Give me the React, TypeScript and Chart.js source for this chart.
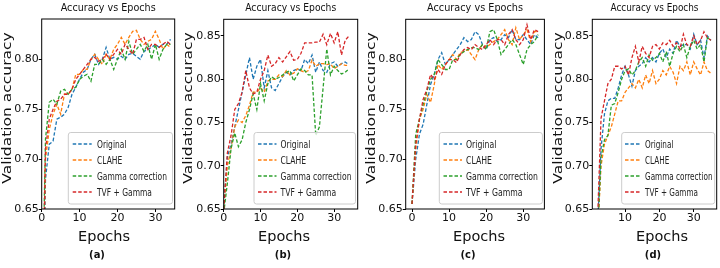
import React, { useEffect, useRef } from "react";
import { Chart, registerables } from "chart.js";

Chart.register(...registerables);

// ---------------- data ----------------
const SERIES_NAMES = ["Original", "CLAHE", "Gamma correction", "TVF + Gamma"];
const SERIES_COLORS = ["#1f77b4", "#ff7f0e", "#2ca02c", "#d62728"];
const PANEL_TAGS = ["(a)", "(b)", "(c)", "(d)"];
const TITLE_TEXT = "Accuracy vs Epochs";
const X_LABEL = "Epochs";
const Y_LABEL = "Validation accuracy";

const EPOCHS_ABC = [0, 1, 2, 3, 4, 5, 6, 7, 8, 9, 10, 11, 12, 13, 14, 15, 16, 17, 18, 19, 20, 21, 22, 23, 24, 25, 26, 27, 28, 29, 30, 31, 32, 33, 34];
const EPOCHS_D = [2, 3, 4, 5, 6, 7, 8, 9, 10, 11, 12, 13, 14, 15, 16, 17, 18, 19, 20, 21, 22, 23, 24, 25, 26, 27, 28, 29, 30, 31, 32, 33, 34, 35];

const X_TICKS_ABC = [0, 10, 20, 30];
const X_TICKS_D = [10, 20, 30];
const Y_TICKS_AC = [0.65, 0.7, 0.75, 0.8];
const Y_TICKS_BD = [0.65, 0.7, 0.75, 0.8, 0.85];

// (a)
const A_ORIGINAL = [0.45, 0.68, 0.715, 0.718, 0.74, 0.742, 0.745, 0.752, 0.765, 0.772, 0.78, 0.787, 0.79, 0.8, 0.805, 0.795, 0.8, 0.812, 0.8, 0.802, 0.8, 0.803, 0.8, 0.805, 0.806, 0.803, 0.8, 0.808, 0.81, 0.812, 0.815, 0.812, 0.815, 0.815, 0.82];
const A_CLAHE = [0.5, 0.7, 0.73, 0.745, 0.755, 0.745, 0.765, 0.765, 0.77, 0.785, 0.785, 0.79, 0.79, 0.8, 0.805, 0.8, 0.795, 0.805, 0.8, 0.81, 0.815, 0.822, 0.815, 0.822, 0.828, 0.829, 0.82, 0.815, 0.818, 0.82, 0.828, 0.82, 0.81, 0.815, 0.812];
const A_GAMMA = [0.52, 0.72, 0.757, 0.76, 0.755, 0.768, 0.77, 0.765, 0.77, 0.772, 0.78, 0.783, 0.785, 0.778, 0.795, 0.795, 0.8, 0.795, 0.8, 0.79, 0.8, 0.81, 0.8, 0.818, 0.805, 0.81, 0.815, 0.808, 0.815, 0.8, 0.815, 0.8, 0.81, 0.815, 0.815];
const A_TVF = [0.5, 0.71, 0.74, 0.75, 0.758, 0.76, 0.765, 0.765, 0.77, 0.78, 0.785, 0.79, 0.795, 0.8, 0.802, 0.798, 0.8, 0.805, 0.8, 0.805, 0.81, 0.805, 0.815, 0.81, 0.805, 0.82, 0.82, 0.822, 0.81, 0.815, 0.815, 0.812, 0.815, 0.818, 0.815];

// (b)
const B_ORIGINAL = [0.65, 0.71, 0.725, 0.745, 0.765, 0.785, 0.805, 0.825, 0.8, 0.815, 0.823, 0.79, 0.81, 0.79, 0.787, 0.795, 0.803, 0.808, 0.805, 0.81, 0.812, 0.81, 0.823, 0.818, 0.828, 0.808, 0.82, 0.81, 0.808, 0.818, 0.82, 0.815, 0.818, 0.82, 0.817];
const B_CLAHE = [0.65, 0.7, 0.72, 0.745, 0.753, 0.75, 0.758, 0.77, 0.785, 0.785, 0.79, 0.785, 0.798, 0.8, 0.8, 0.805, 0.803, 0.81, 0.805, 0.807, 0.812, 0.81, 0.808, 0.81, 0.822, 0.815, 0.818, 0.818, 0.817, 0.818, 0.812, 0.815, 0.818, 0.816, 0.816];
const B_GAMMA = [0.645, 0.68, 0.72, 0.738, 0.722, 0.73, 0.75, 0.765, 0.783, 0.765, 0.795, 0.775, 0.795, 0.803, 0.8, 0.802, 0.805, 0.808, 0.81, 0.798, 0.805, 0.812, 0.81, 0.805, 0.805, 0.735, 0.745, 0.79, 0.835, 0.805, 0.815, 0.81, 0.806, 0.808, 0.812];
const B_TVF = [0.65, 0.715, 0.735, 0.765, 0.772, 0.785, 0.81, 0.79, 0.783, 0.785, 0.8, 0.81, 0.828, 0.815, 0.818, 0.825, 0.82, 0.826, 0.832, 0.822, 0.823, 0.83, 0.842, 0.842, 0.842, 0.843, 0.843, 0.852, 0.84, 0.853, 0.842, 0.855, 0.828, 0.845, 0.85];

// (c)
const C_ORIGINAL = [0.655, 0.7, 0.725, 0.735, 0.755, 0.775, 0.785, 0.8, 0.807, 0.795, 0.8, 0.805, 0.81, 0.815, 0.822, 0.818, 0.82, 0.828, 0.825, 0.815, 0.81, 0.82, 0.822, 0.818, 0.82, 0.825, 0.822, 0.83, 0.82, 0.82, 0.825, 0.82, 0.815, 0.825, 0.822];
const C_CLAHE = [0.655, 0.71, 0.74, 0.75, 0.765, 0.757, 0.775, 0.795, 0.79, 0.795, 0.8, 0.805, 0.8, 0.807, 0.808, 0.81, 0.805, 0.8, 0.81, 0.815, 0.812, 0.815, 0.818, 0.82, 0.825, 0.83, 0.82, 0.815, 0.832, 0.82, 0.825, 0.83, 0.818, 0.828, 0.828];
const C_GAMMA = [0.655, 0.725, 0.74, 0.755, 0.768, 0.78, 0.785, 0.8, 0.795, 0.79, 0.79, 0.8, 0.8, 0.805, 0.808, 0.81, 0.812, 0.812, 0.81, 0.815, 0.81, 0.828, 0.83, 0.82, 0.805, 0.81, 0.815, 0.82, 0.815, 0.805, 0.795, 0.81, 0.815, 0.818, 0.825];
const C_TVF = [0.655, 0.715, 0.74, 0.76, 0.77, 0.785, 0.78, 0.79, 0.785, 0.795, 0.8, 0.8, 0.797, 0.805, 0.81, 0.812, 0.81, 0.815, 0.812, 0.81, 0.815, 0.82, 0.815, 0.82, 0.82, 0.815, 0.825, 0.83, 0.82, 0.815, 0.82, 0.835, 0.82, 0.83, 0.828];

// (d)
const D_ORIGINAL = [0.63, 0.72, 0.76, 0.775, 0.778, 0.778, 0.79, 0.805, 0.815, 0.805, 0.792, 0.81, 0.815, 0.818, 0.825, 0.82, 0.825, 0.82, 0.83, 0.835, 0.825, 0.835, 0.83, 0.845, 0.838, 0.84, 0.84, 0.835, 0.852, 0.84, 0.845, 0.825, 0.85, 0.845];
const D_CLAHE = [0.62, 0.7, 0.725, 0.735, 0.745, 0.76, 0.775, 0.775, 0.785, 0.79, 0.795, 0.79, 0.8, 0.79, 0.805, 0.795, 0.81, 0.795, 0.8, 0.81, 0.805, 0.815, 0.808, 0.795, 0.815, 0.81, 0.82, 0.805, 0.82, 0.812, 0.805, 0.82, 0.81, 0.807];
const D_GAMMA = [0.62, 0.71, 0.73, 0.735, 0.77, 0.772, 0.785, 0.8, 0.81, 0.812, 0.805, 0.81, 0.82, 0.825, 0.815, 0.828, 0.822, 0.825, 0.83, 0.82, 0.832, 0.815, 0.83, 0.838, 0.832, 0.84, 0.825, 0.838, 0.845, 0.835, 0.84, 0.82, 0.848, 0.845];
const D_TVF = [0.64, 0.755, 0.775, 0.795, 0.8, 0.815, 0.815, 0.812, 0.815, 0.805, 0.825, 0.838, 0.82, 0.838, 0.83, 0.825, 0.838, 0.84, 0.835, 0.842, 0.84, 0.845, 0.838, 0.842, 0.835, 0.852, 0.84, 0.838, 0.85, 0.84, 0.845, 0.855, 0.848, 0.845];

// ---------------- layout (page pixels) ----------------
const FONT = "'DejaVu Sans', 'Liberation Sans', sans-serif";
const H = 268;

type Panel = {
  cl: number; cw: number;
  l: number; r: number; t: number; b: number;
  xMin: number; xMax: number; yMin: number; yMax: number;
  xTicks: number[]; yTicks: number[];
  epochs: number[]; series: number[][];
  tag: string; titleW: number; yLabX: number; xLabX: number; tagX: number;
  lg: { x0: number; x1: number; hx0: number; hx1: number; tx: number; gw: number };
};

const PANELS: Panel[] = [
  {
    cl: 0, cw: 180, l: 41.7, r: 174.7, t: 19, b: 209,
    xMin: 0, xMax: 35.1, yMin: 0.65, yMax: 0.8404,
    xTicks: X_TICKS_ABC, yTicks: Y_TICKS_AC, epochs: EPOCHS_ABC,
    series: [A_ORIGINAL, A_CLAHE, A_GAMMA, A_TVF],
    tag: PANEL_TAGS[0], titleW: 95, yLabX: 7.5, xLabX: 104, tagX: 97,
    lg: { x0: 68.3, x1: 172.5, hx0: 72.7, hx1: 91.7, tx: 97, gw: 70 },
  },
  {
    cl: 180, cw: 182, l: 223.7, r: 357.7, t: 19.3, b: 209,
    xMin: 0, xMax: 36.4, yMin: 0.65, yMax: 0.8693,
    xTicks: X_TICKS_ABC, yTicks: Y_TICKS_BD, epochs: EPOCHS_ABC,
    series: [B_ORIGINAL, B_CLAHE, B_GAMMA, B_TVF],
    tag: PANEL_TAGS[1], titleW: 91, yLabX: 189, xLabX: 284, tagX: 283,
    lg: { x0: 254, x1: 355.5, hx0: 258, hx1: 276.5, tx: 280.5, gw: 71 },
  },
  {
    cl: 362, cw: 186, l: 405.7, r: 544.4, t: 19.3, b: 209,
    xMin: -1.7, xMax: 35.7, yMin: 0.65, yMax: 0.8404,
    xTicks: X_TICKS_ABC, yTicks: Y_TICKS_AC, epochs: EPOCHS_ABC,
    series: [C_ORIGINAL, C_CLAHE, C_GAMMA, C_TVF],
    tag: PANEL_TAGS[2], titleW: 96, yLabX: 371.7, xLabX: 479, tagX: 468,
    lg: { x0: 439.3, x1: 542.4, hx0: 443.5, hx1: 462, tx: 466, gw: 72 },
  },
  {
    cl: 548, cw: 172, l: 592.3, r: 716.7, t: 19.3, b: 209,
    xMin: 0.45, xMax: 36.7, yMin: 0.65, yMax: 0.8693,
    xTicks: X_TICKS_D, yTicks: Y_TICKS_BD, epochs: EPOCHS_D,
    series: [D_ORIGINAL, D_CLAHE, D_GAMMA, D_TVF],
    tag: PANEL_TAGS[3], titleW: 88, yLabX: 559, xLabX: 662, tagX: 653,
    lg: { x0: 621.7, x1: 714.7, hx0: 625, hx1: 640.5, tx: 645, gw: 67.5 },
  },
];

const LEGEND_TOP = 132.5;
const LEGEND_BOTTOM = 204;
const LEGEND_ROWS = [144, 160, 176, 192];

function drawScaledText(
  ctx: CanvasRenderingContext2D, text: string, x: number, y: number,
  font: string, sx: number, align: CanvasTextAlign, color: string, rotate = false
) {
  ctx.save();
  ctx.font = font;
  ctx.fillStyle = color;
  ctx.translate(x, y);
  ctx.scale(sx, 1);
  if (rotate) {
    ctx.rotate(-Math.PI / 2);
    ctx.textBaseline = "middle";
  } else {
    ctx.textBaseline = "alphabetic";
  }
  ctx.textAlign = align;
  ctx.fillText(text, 0, 0);
  ctx.restore();
}

function makeDecor(p: Panel) {
  return {
    id: "decor",
    afterDraw(chart: any) {
      const ctx: CanvasRenderingContext2D = chart.ctx;
      const ca = chart.chartArea;
      const ox = p.cl;
      ctx.save();
      ctx.strokeStyle = "#000";
      ctx.lineWidth = 1;
      ctx.setLineDash([]);
      ctx.strokeRect(ca.left, ca.top, ca.right - ca.left, ca.bottom - ca.top);

      ctx.font = `11px ${FONT}`;
      const tw = ctx.measureText(TITLE_TEXT).width;
      drawScaledText(ctx, TITLE_TEXT, (ca.left + ca.right) / 2, 10.8, `11px ${FONT}`, p.titleW / tw, "center", "#111");

      drawScaledText(ctx, Y_LABEL, p.yLabX - ox, 108, `15.5px ${FONT}`, 0.8, "center", "#111", true);

      drawScaledText(ctx, X_LABEL, p.xLabX - ox, 241, `14.5px ${FONT}`, 1, "center", "#111");

      drawScaledText(ctx, p.tag, p.tagX - ox, 257.5, `bold 10px ${FONT}`, 1, "center", "#111");

      const lg = p.lg;
      ctx.beginPath();
      const bx = lg.x0 - ox, bw = lg.x1 - lg.x0, bh = LEGEND_BOTTOM - LEGEND_TOP;
      if ((ctx as any).roundRect) (ctx as any).roundRect(bx, LEGEND_TOP, bw, bh, 2.5);
      else ctx.rect(bx, LEGEND_TOP, bw, bh);
      ctx.fillStyle = "rgba(255,255,255,0.8)";
      ctx.fill();
      ctx.strokeStyle = "#cccccc";
      ctx.lineWidth = 1;
      ctx.stroke();

      ctx.font = `10px ${FONT}`;
      const gwNat = ctx.measureText(SERIES_NAMES[2]).width;
      const sx = lg.gw / gwNat;
      SERIES_NAMES.forEach((name, i) => {
        const y = LEGEND_ROWS[i];
        ctx.save();
        ctx.setLineDash([3.5, 2]);
        ctx.strokeStyle = SERIES_COLORS[i];
        ctx.lineWidth = 1.3;
        ctx.beginPath();
        ctx.moveTo(lg.hx0 - ox, y);
        ctx.lineTo(lg.hx1 - ox, y);
        ctx.stroke();
        ctx.restore();
        drawScaledText(ctx, name, lg.tx - ox, y + 3.6, `10px ${FONT}`, sx, "left", "#222");
      });
      ctx.restore();
    },
  };
}

function PanelChart({ p }: { p: Panel }) {
  const ref = useRef<HTMLCanvasElement | null>(null);
  useEffect(() => {
    if (!ref.current) return;
    const datasets = p.series.map((vals, i) => ({
      label: SERIES_NAMES[i],
      data: p.epochs.map((e, j) => ({ x: e, y: vals[j] })),
      borderColor: SERIES_COLORS[i],
      backgroundColor: SERIES_COLORS[i],
      borderWidth: 1.3,
      borderDash: [3.5, 2],
      pointRadius: 0,
      fill: false,
      tension: 0,
      order: 3 - i,
    }));
    const tickFont = { family: FONT, size: 11 };
    const leftW = p.l - p.cl;
    const bottomH = H - p.b;
    const chart = new Chart(ref.current, {
      type: "line",
      data: { datasets },
      options: {
        animation: false,
        responsive: false,
        maintainAspectRatio: false,
        events: [],
        layout: {
          padding: { left: 0, right: p.cl + p.cw - p.r, top: p.t, bottom: 0 },
        },
        plugins: {
          legend: { display: false },
          tooltip: { enabled: false },
          title: { display: false },
        },
        scales: {
          x: {
            type: "linear",
            min: p.xMin,
            max: p.xMax,
            bounds: "data",
            afterFit: (s: any) => { s.height = bottomH; },
            afterBuildTicks: (s: any) => { s.ticks = p.xTicks.map((v) => ({ value: v })); },
            grid: { display: true, drawOnChartArea: false, drawTicks: true, tickLength: 3, color: "#000", lineWidth: 1 },
            border: { display: false },
            ticks: {
              font: tickFont, color: "#111", padding: 0, maxRotation: 0, autoSkip: false,
              callback: (v: any) => String(v),
            },
          },
          y: {
            type: "linear",
            min: p.yMin,
            max: p.yMax,
            bounds: "data",
            afterFit: (s: any) => { s.width = leftW; },
            afterBuildTicks: (s: any) => { s.ticks = p.yTicks.map((v) => ({ value: v })); },
            grid: { display: true, drawOnChartArea: false, drawTicks: true, tickLength: 3, color: "#000", lineWidth: 1 },
            border: { display: false },
            ticks: {
              font: tickFont, color: "#111", padding: 0, autoSkip: false,
              callback: (v: any) => Number(v).toFixed(2),
            },
          },
        },
      } as any,
      plugins: [makeDecor(p)],
    });
    return () => chart.destroy();
  }, [p]);
  return (
    <canvas
      ref={ref}
      width={p.cw}
      height={H}
      style={{ position: "absolute", left: p.cl, top: 0, width: p.cw, height: H }}
    />
  );
}

export default function App() {
  return (
    <div style={{ position: "absolute", left: 0, top: 0, width: 720, height: H, background: "#fff", overflow: "hidden" }}>
      {PANELS.map((p, i) => (
        <PanelChart key={i} p={p} />
      ))}
    </div>
  );
}
